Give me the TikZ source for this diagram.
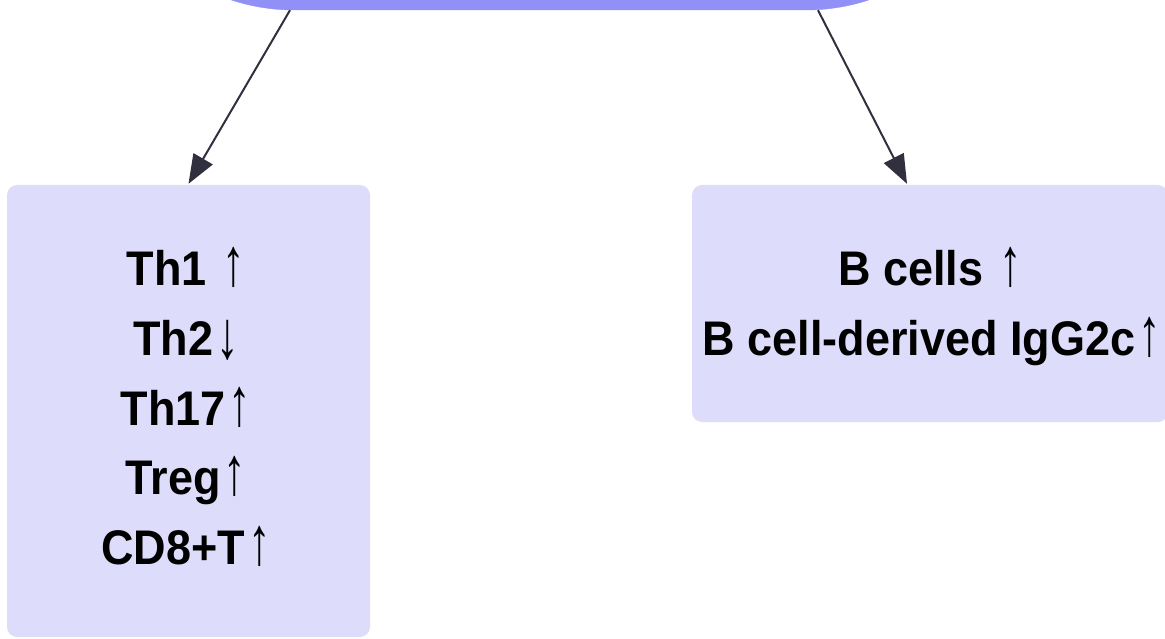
\documentclass[tikz,border=0pt]{standalone}
\usepackage{fontspec}
\setmainfont{Liberation Sans}
\usetikzlibrary{arrows.meta}
\definecolor{topblue}{RGB}{144,144,246}
\definecolor{boxfill}{RGB}{221,221,251}
\definecolor{linkgray}{RGB}{48,48,62}
% thin, tall change arrows
\newcommand\upmark{{\mdseries\hspace{0.07em}\scalebox{1}[1.4]{↑}}}
\newcommand\downmark{{\mdseries\hspace{0.07em}\raisebox{-0.08em}{\scalebox{1}[1.4]{↓}}}}
\newcommand\tall[1]{\scalebox{1}[1.08]{#1}}
\tikzset{
  cellbox/.style={fill=boxfill, rounded corners=10pt, inner sep=0pt},
  celltext/.style={anchor=base, inner sep=0pt, font=\bfseries\fontsize{45}{54}\selectfont},
  link/.style={draw=linkgray, line width=2pt, -{Triangle[length=29pt,width=22pt]}}
}
\begin{document}
\begin{tikzpicture}[x=1pt,y=-1pt]
\useasboundingbox (0,0) rectangle (1165,639);

% source node, mostly above the page
\node[draw=topblue, fill=topblue, rounded corners=200pt, minimum width=912pt,
      minimum height=420pt, inner sep=0pt] (top) at (550,-200) {};

% result boxes
\node[cellbox, minimum width=363pt, minimum height=452pt] (lbox) at (188.5,411) {};
\node[cellbox, minimum width=476pt, minimum height=237pt] (rbox) at (930,303.5) {};

% T cell changes
\node[celltext] (th1)  at (186,286) {\tall{Th1 \upmark}};
\node[celltext] (th2)  at (186,355) {\tall{Th2\downmark}};
\node[celltext] (th17) at (186,425) {\tall{Th17\upmark}};
\node[celltext] (treg) at (186,494) {\tall{Treg\upmark}};
\node[celltext] (cd8)  at (186,564) {\tall{CD8+T\upmark}};

% B cell changes
\node[celltext] (bc)  at (930,285) {\tall{B cells \upmark}};
\node[celltext] (igg) at (932,355) {\tall{B cell-derived IgG2c\upmark}};

% connectors
\draw[link] ([xshift=-260pt]top.south) -- ([yshift=1pt]lbox.north);
\draw[link] ([xshift=268pt]top.south) -- ([xshift=-23pt,yshift=1pt]rbox.north);
\end{tikzpicture}
\end{document}
